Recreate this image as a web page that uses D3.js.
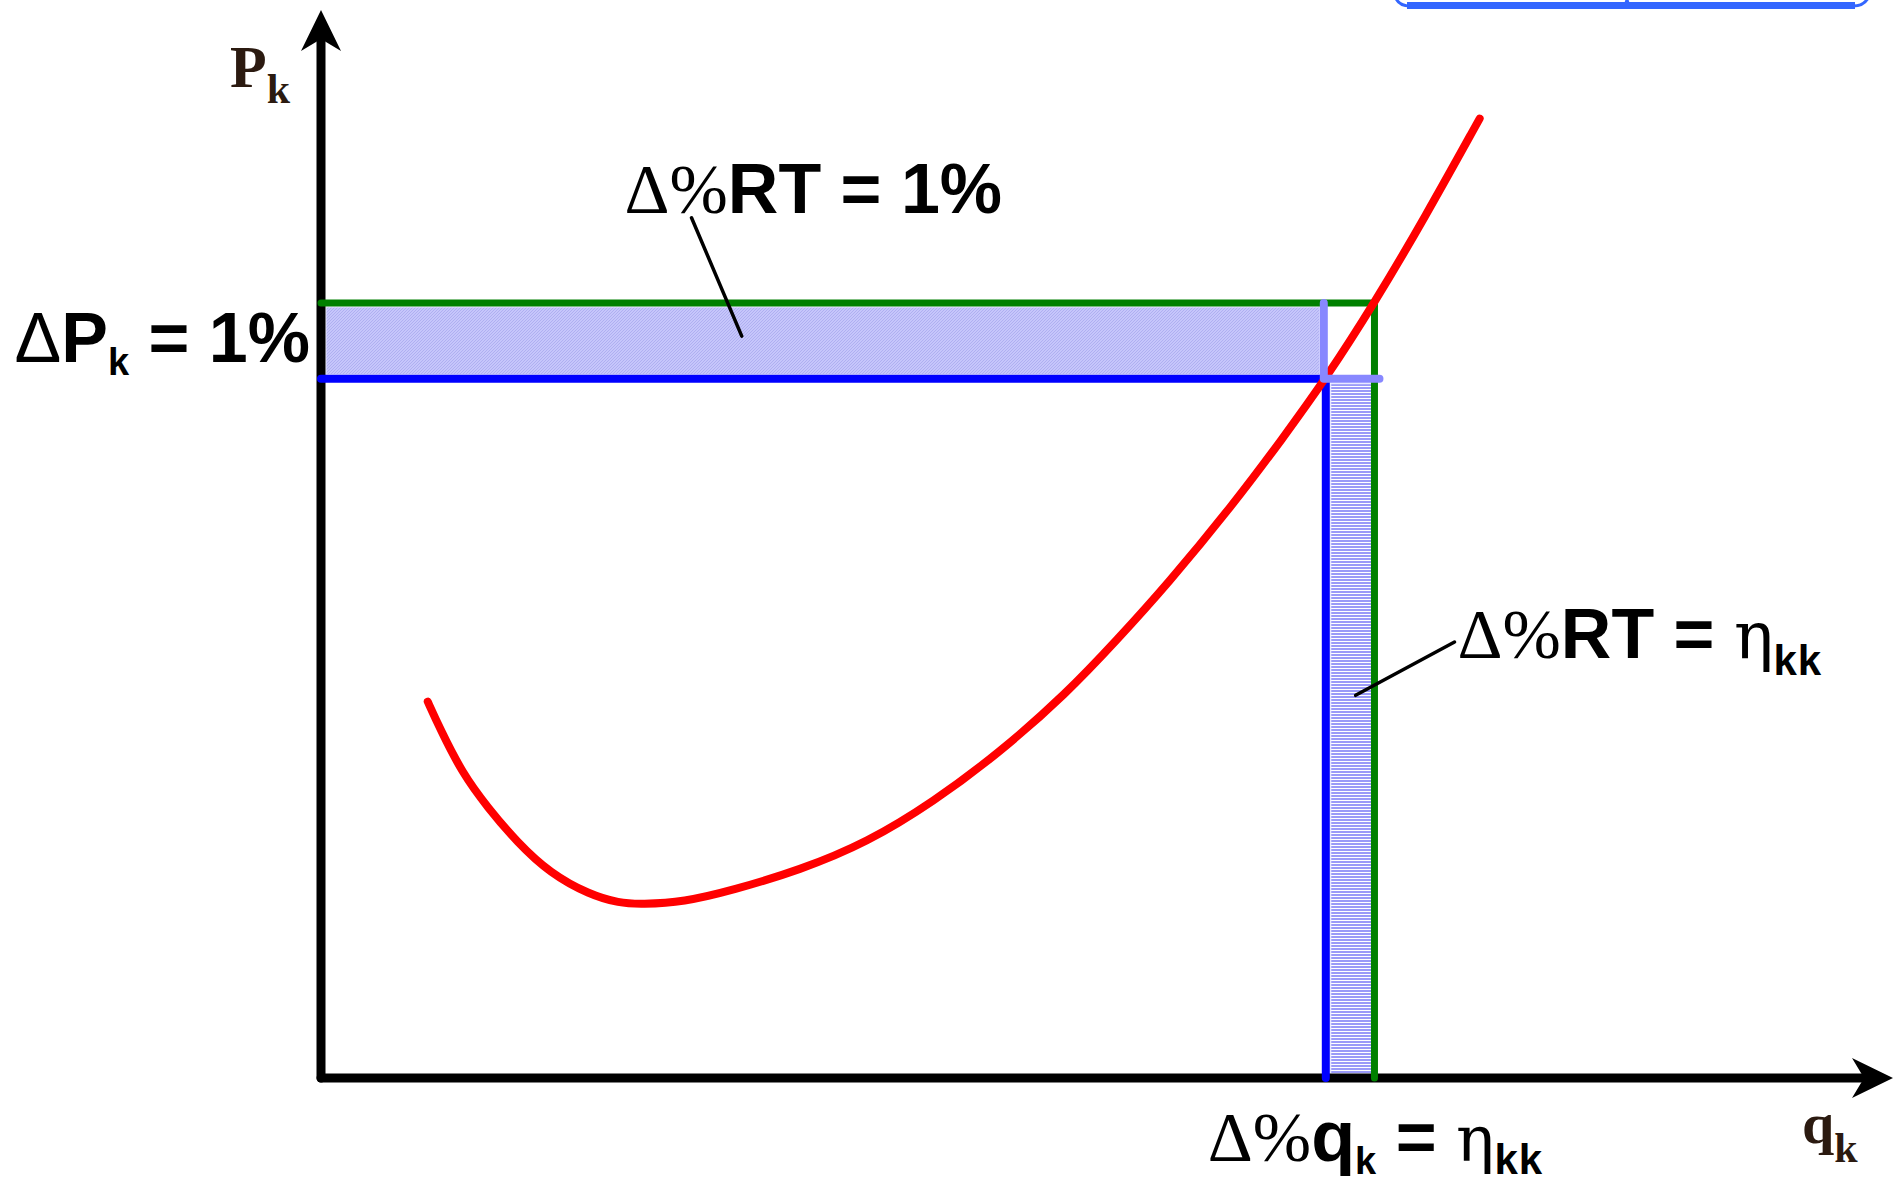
<!DOCTYPE html>
<html>
<head>
<meta charset="utf-8">
<script src="https://cdn.jsdelivr.net/npm/d3@7"></script>
<style>
  html, body { margin: 0; padding: 0; background: #fff; }
  svg { display: block; }
</style>
</head>
<body>
<div id="chart"></div>
<script>
// curve of the total revenue / price relation (q units, P units)
let curveQ = [6.8, 7.6, 9.0, 10.6, 12.5, 14.6, 17.1, 19.0, 20.4, 23.1, 26.2, 30.5, 34.8, 39.0, 43.2, 47.5, 50.7, 53.9, 58.1, 61.3, 64.0, 67.1, 70.3, 73.8]
let curveP = [35.3, 32.7, 28.6, 25.4, 22.1, 19.2, 17.2, 16.4, 16.3, 16.5, 17.6, 19.5, 22.1, 25.9, 30.5, 36.1, 41.1, 46.3, 53.8, 60.1, 65.6, 72.7, 80.7, 90.0]

// the two price levels and the two quantities
let priceLevels = [65.6, 72.7]
let qtyLevels = [64.0, 67.1]

// leader lines [q1, P1, q2, P2]
let leaders = [
    [23.6, 80.7, 26.8, 69.6],
    [72.2, 40.9, 65.9, 35.9]
]

let axisMax = 100

let width = 1901, height = 1185

let svg = d3.select('#chart').append('svg')
    .attr('width', width)
    .attr('height', height)

let x = d3.scaleLinear().domain([0, axisMax]).range([321, 1891])
let y = d3.scaleLinear().domain([0, axisMax]).range([1078, 12])

let sans = 'Liberation Sans, Arial, sans-serif'
let serif = 'Liberation Serif, Times New Roman, serif'
let greek = 'DejaVu Serif, serif'
let brown = '#2b1a10'

let defs = svg.append('defs')

// fine diagonal hatch for the horizontal band
let pat1 = defs.append('pattern')
    .attr('id', 'hatch1')
    .attr('patternUnits', 'userSpaceOnUse')
    .attr('width', 3).attr('height', 3)
pat1.append('rect').attr('width', 3).attr('height', 3).attr('fill', '#c6c6fb')
pat1.append('path').attr('d', 'M0,3 L3,0').attr('stroke', '#a9a9ef').attr('stroke-width', 0.8)

// horizontal stripes for the vertical band
let pat2 = defs.append('pattern')
    .attr('id', 'hatch2')
    .attr('patternUnits', 'userSpaceOnUse')
    .attr('width', 4).attr('height', 3)
pat2.append('rect').attr('width', 4).attr('height', 3).attr('fill', '#ffffff')
pat2.append('rect').attr('width', 4).attr('height', 2).attr('fill', '#9a9af8')

let P1 = priceLevels[0], P2 = priceLevels[1]
let q1 = qtyLevels[0], q2 = qtyLevels[1]

// shaded bands
svg.append('rect')
    .attr('x', x(0) + 5)
    .attr('y', y(P2) + 4)
    .attr('width', x(q1) - x(0) - 11)
    .attr('height', y(P1) - y(P2) - 8)
    .attr('fill', 'url(#hatch1)')
    .attr('stroke', '#e4e4ff')
    .attr('stroke-width', 1)

svg.append('rect')
    .attr('x', x(q1) + 5)
    .attr('y', y(P1) + 5)
    .attr('width', x(q2) - x(q1) - 8)
    .attr('height', y(0) - y(P1) - 9)
    .attr('fill', 'url(#hatch2)')
    .attr('stroke', '#e4e4ff')
    .attr('stroke-width', 1)

// axes
let axes = svg.append('g')
axes.append('line')
    .attr('x1', x(0)).attr('y1', y(0))
    .attr('x2', x(0)).attr('y2', y(axisMax) + 30)
    .attr('stroke', 'black').attr('stroke-width', 9).attr('stroke-linecap', 'round')
axes.append('line')
    .attr('x1', x(0)).attr('y1', y(0))
    .attr('x2', x(axisMax) - 30).attr('y2', y(0))
    .attr('stroke', 'black').attr('stroke-width', 9).attr('stroke-linecap', 'round')

axes.append('path')
    .attr('d', 'M' + x(0) + ',' + (y(axisMax) - 2) +
        ' L' + (x(0) + 20) + ',' + (y(axisMax) + 39) +
        ' L' + x(0) + ',' + (y(axisMax) + 27) +
        ' L' + (x(0) - 20) + ',' + (y(axisMax) + 39) + ' Z')
    .attr('fill', 'black')
axes.append('path')
    .attr('d', 'M' + (x(axisMax) + 2) + ',' + y(0) +
        ' L' + (x(axisMax) - 39) + ',' + (y(0) - 20) +
        ' L' + (x(axisMax) - 27) + ',' + y(0) +
        ' L' + (x(axisMax) - 39) + ',' + (y(0) + 20) + ' Z')
    .attr('fill', 'black')

// green (higher price) lines
svg.append('path')
    .attr('d', 'M' + x(0) + ',' + y(P2) + ' L' + x(q2) + ',' + y(P2) + ' L' + x(q2) + ',' + y(0))
    .attr('fill', 'none')
    .attr('stroke', '#008000').attr('stroke-width', 7)
    .attr('stroke-linecap', 'round').attr('stroke-linejoin', 'round')

// blue (original price) lines
svg.append('path')
    .attr('d', 'M' + x(0) + ',' + y(P1) + ' L' + x(q1) + ',' + y(P1) + ' L' + x(q1) + ',' + y(0))
    .attr('fill', 'none')
    .attr('stroke', '#0000ff').attr('stroke-width', 8)
    .attr('stroke-linecap', 'round').attr('stroke-linejoin', 'round')

// red curve
let pts = curveQ.map(function(d, i){ return [d, curveP[i]] })

let line = d3.line()
    .x(function(d){ return x(d[0]) })
    .y(function(d){ return y(d[1]) })
    .curve(d3.curveBasis)

svg.append('path')
    .datum(pts)
    .attr('d', line)
    .attr('fill', 'none')
    .attr('stroke', '#ff0000')
    .attr('stroke-width', 8)
    .attr('stroke-linecap', 'round')

// light blue corner
svg.append('path')
    .attr('d', 'M' + (x(q1) - 2) + ',' + y(P2) + ' L' + (x(q1) - 2) + ',' + y(P1) + ' L' + (x(q2) + 5) + ',' + y(P1))
    .attr('fill', 'none')
    .attr('stroke', '#8888ff').attr('stroke-width', 8)
    .attr('stroke-linecap', 'round').attr('stroke-linejoin', 'round')

// leader lines
svg.selectAll('.leader')
    .data(leaders)
    .enter()
    .append('line')
    .attr('class', 'leader')
    .attr('x1', function(d){ return x(d[0]) })
    .attr('y1', function(d){ return y(d[1]) })
    .attr('x2', function(d){ return x(d[2]) })
    .attr('y2', function(d){ return y(d[3]) })
    .attr('stroke', 'black')
    .attr('stroke-width', 3.5)
    .attr('stroke-linecap', 'round')

// brace at the top right, cut off by the page edge
svg.append('path')
    .attr('d', 'M1395,-4 Q1398,6 1410,6 L1620,6 Q1627,6 1627,-2 Q1627,6 1634,6 L1853,6 Q1865,6 1869,-4')
    .attr('fill', 'none')
    .attr('stroke', '#3366ff')
    .attr('stroke-width', 3)
svg.append('line')
    .attr('x1', 1407).attr('x2', 1855)
    .attr('y1', 5.5).attr('y2', 5.5)
    .attr('stroke', '#3366ff')
    .attr('stroke-width', 7)

// labels
function addLabel(xp, yp, anchor, parts){
    let t = svg.append('text')
        .attr('x', xp)
        .attr('y', yp)
        .attr('text-anchor', anchor)
        .attr('fill', 'black')
    parts.forEach(function(p){
        let s = t.append('tspan')
            .attr('font-family', p.f)
            .attr('font-weight', p.w)
            .attr('font-size', p.s)
            .text(p.t)
        if (p.dy) s.attr('dy', p.dy)
        if (p.c) s.attr('fill', p.c)
        if (p.ls) s.attr('letter-spacing', p.ls)
    })
    return t
}

// ΔPk = 1%
addLabel(x(0) - 11, (y(P1) + y(P2)) / 2 + 21, 'end', [
    {t: 'Δ', f: sans, w: 'normal', s: 70},
    {t: 'P', f: sans, w: 'bold', s: 70},
    {t: 'k', f: sans, w: 'bold', s: 38, dy: 13},
    {t: ' = 1%', f: sans, w: 'bold', s: 70, dy: -13}
])

// Δ%RT = 1%
addLabel(x(leaders[0][0]) - 67, y(leaders[0][1]) - 5, 'start', [
    {t: 'Δ%', f: serif, w: 'normal', s: 70},
    {t: 'RT = 1%', f: sans, w: 'bold', s: 70}
])

// Δ%RT = ηkk
addLabel(x(leaders[1][0]) + 3, y(leaders[1][1]) + 16, 'start', [
    {t: 'Δ%', f: serif, w: 'normal', s: 70},
    {t: 'RT = ', f: sans, w: 'bold', s: 70},
    {t: 'η', f: greek, w: 'normal', s: 66},
    {t: 'kk', f: sans, w: 'bold', s: 42, dy: 17, ls: 1}
])

// Δ%qk = ηkk
addLabel(x(q1) - 118, y(0) + 83, 'start', [
    {t: 'Δ%', f: serif, w: 'normal', s: 70},
    {t: 'q', f: sans, w: 'bold', s: 72},
    {t: 'k', f: sans, w: 'bold', s: 38, dy: 13},
    {t: ' = ', f: sans, w: 'bold', s: 70, dy: -13},
    {t: 'η', f: greek, w: 'normal', s: 64},
    {t: 'kk', f: sans, w: 'bold', s: 42, dy: 13, ls: 1}
])

// axis names
addLabel(x(0) - 91, y(axisMax) + 75, 'start', [
    {t: 'P', f: serif, w: 'bold', s: 60, c: brown},
    {t: 'k', f: serif, w: 'bold', s: 42, dy: 16, c: brown}
])

addLabel(x(axisMax) - 89, y(0) + 65, 'start', [
    {t: 'q', f: serif, w: 'bold', s: 58, c: brown},
    {t: 'k', f: serif, w: 'bold', s: 42, dy: 19, c: brown}
])
</script>
</body>
</html>
